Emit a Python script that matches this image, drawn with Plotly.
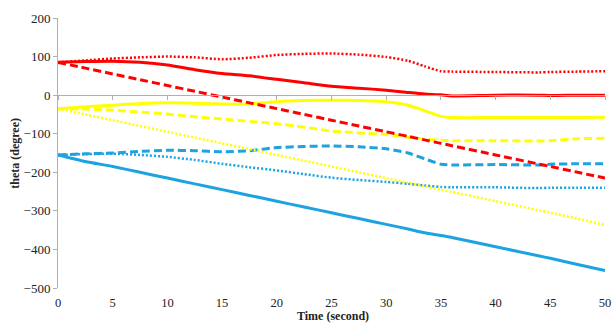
import plotly.graph_objects as go

# Sample times (s)
time = [0, 2.5, 5, 7.5, 10, 12.5, 15, 17.5, 20, 22.5, 25, 27.5, 30,
        32, 33.5, 35, 36, 40, 44, 45, 47.5, 50]

# theta (degree) for each joint / case
red_solid = [85, 87, 88, 85, 78, 66, 56, 50, 41, 32, 23, 18, 13,
             7, 3, 1, -2, 0, 0, -1, 0, 0]
red_dash = [85, 70, 55, 40, 25, 10, -5, -20, -35, -50, -65, -80, -95,
            -107, -116, -125, -131, -155, -179, -185, -200, -215]
red_dot = [85, 90, 95, 98, 100, 98, 93, 97, 104, 107, 108, 105, 99,
           89, 75, 62, 61, 60, 59, 60, 61, 62]

yellow_solid = [-35, -30, -26, -22, -20, -21, -23, -23, -17, -14, -13, -14, -17,
                -26, -40, -55, -58, -58, -58, -58, -58, -57]
yellow_dash = [-35, -36, -39, -44, -49, -56, -62, -68, -74, -83, -93, -98, -102,
               -109, -114, -117, -118, -118, -119, -118, -113, -112]
yellow_dot = [-35, -50, -65, -80, -95, -110, -125, -140, -155, -170, -185, -200, -215,
              -227, -236, -245, -251, -275, -299, -305, -320, -337]

blue_solid = [-155, -172, -185, -200, -215, -230, -245, -260, -275, -290, -305, -320, -335,
              -347, -357, -364, -369, -393, -417, -423, -439, -455]
blue_dash = [-155, -152, -150, -146, -143, -144, -147, -144, -136, -133, -132, -134, -139,
             -150, -165, -179, -181, -180, -181, -179, -178, -178]
blue_dot = [-155, -153, -152, -155, -160, -168, -178, -187, -195, -205, -214, -220, -225,
            -230, -234, -238, -239, -239, -241, -240, -240, -240]

x_ticks = [0, 5, 10, 15, 20, 25, 30, 35, 40, 45, 50]
y_ticks = [200, 100, 0, -100, -200, -300, -400, -500]

RED = "#ff0000"
YELLOW = "#ffff00"
BLUE = "#1ca3e0"
DASH = "8px,4px"
DOT = "2px,2px"

series = [
    (blue_solid, BLUE, "solid", 3),
    (blue_dot, BLUE, DOT, 2.5),
    (blue_dash, BLUE, DASH, 3),
    (yellow_dot, YELLOW, DOT, 2.5),
    (yellow_dash, YELLOW, DASH, 3),
    (yellow_solid, YELLOW, "solid", 3),
    (red_dot, RED, DOT, 2.5),
    (red_dash, RED, DASH, 3),
    (red_solid, RED, "solid", 3),
]

fig = go.Figure()
for vals, color, dash, width in series:
    fig.add_trace(go.Scatter(
        x=time, y=vals, mode="lines",
        line=dict(color=color, dash=dash, width=width, shape="spline", smoothing=0.6),
        showlegend=False, hoverinfo="skip",
    ))

font_family = "Liberation Serif, Times New Roman, serif"

fig.update_layout(
    width=613, height=325,
    margin=dict(l=58, r=8, t=18, b=37),
    paper_bgcolor="white", plot_bgcolor="white",
    font=dict(family=font_family, size=13, color="#222"),
    xaxis=dict(
        range=[0, 50], tickvals=x_ticks, showgrid=False, zeroline=False,
        showline=False, ticks="outside", ticklen=3, tickcolor="rgba(0,0,0,0)",
        tickfont=dict(size=12.5), automargin=False,
    ),
    # horizontal axis line crossing at theta = 0, with its tick marks
    xaxis2=dict(
        range=[0, 50], tickvals=x_ticks, overlaying="x", anchor="free",
        position=5 / 7, side="bottom", showline=True, linecolor="#b0b0b0",
        linewidth=1, ticks="outside", ticklen=4, tickcolor="#b0b0b0",
        showticklabels=False, showgrid=False, zeroline=False, automargin=False,
    ),
    yaxis=dict(
        range=[-500, 200], tickvals=y_ticks, showgrid=False, zeroline=False,
        showline=True, linecolor="#b0b0b0", linewidth=1,
        ticks="outside", ticklen=4, tickcolor="#b0b0b0",
        tickfont=dict(size=13), automargin=False,
    ),
    annotations=[
        dict(text="<b>Time (second)</b>", xref="paper", yref="paper",
             x=0.503, y=-0.105, xanchor="center", yanchor="middle",
             showarrow=False, font=dict(size=12, color="#222")),
        dict(text="<b>theta (degree)</b>", xref="paper", yref="paper",
             x=-0.079, y=0.5, xanchor="center", yanchor="middle", textangle=-90,
             showarrow=False, font=dict(size=12, color="#222")),
    ],
)

# dummy trace to make the crossing axis render
fig.add_trace(go.Scatter(x=[None], y=[None], xaxis="x2", showlegend=False, hoverinfo="skip"))

fig.write_html("out.html")
